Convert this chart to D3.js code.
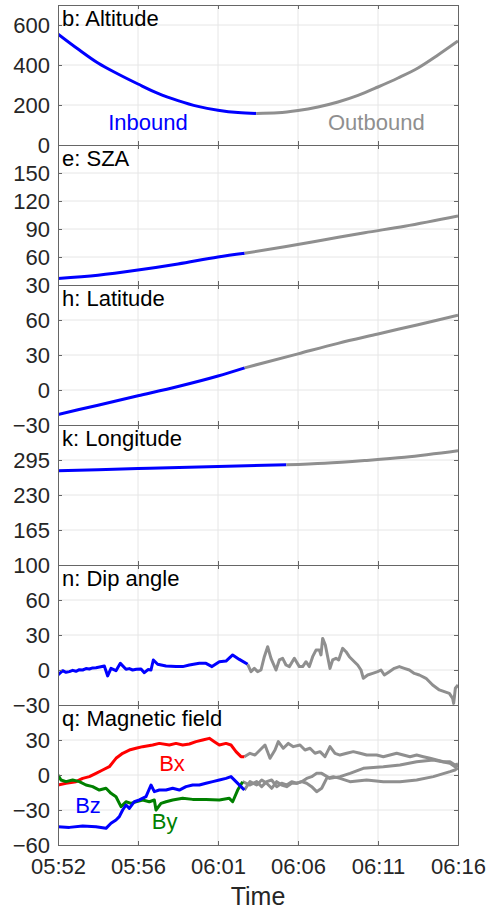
<!DOCTYPE html>
<html>
<head>
<meta charset="utf-8">
<script src="https://cdn.jsdelivr.net/npm/d3@7"></script>
<style>
  body { margin: 0; background: #fff; }
  text { font-family: "Liberation Sans", Arial, Helvetica, sans-serif; }
</style>
</head>
<body>
<script>
// time axis (minutes after start of window) and its labels
var timeTicks = [0, 4.8, 9.6, 14.4, 19.2, 24];
var timeLabels = ["05:52", "05:56", "06:01", "06:06", "06:11", "06:16"];

// b: Altitude
var altTicks = [0, 200, 400, 600];
var altInT  = [0, 1.2, 2.4, 3.6, 4.8, 6, 7.2, 8.4, 9.6, 10.8, 11.9];
var altInV  = [555, 480, 410, 355, 305, 258, 222, 193, 174, 162, 158];
var altOutT = [11.9, 13.2, 14.4, 15.6, 16.8, 18, 19.2, 20.4, 21.6, 22.8, 24];
var altOutV = [158, 161, 172, 190, 215, 248, 290, 335, 385, 450, 520];

// e: SZA
var szaTicks = [30, 60, 90, 120, 150];
var szaInT  = [0, 2.4, 4.8, 7.2, 9.6, 11.2];
var szaInV  = [37, 40.5, 46, 52.5, 60, 64];
var szaOutT = [11.2, 13.6, 16, 18.4, 20.8, 24];
var szaOutV = [64, 71, 78.5, 86, 93, 104];

// h: Latitude
var latTicks = [-30, 0, 30, 60];
var latInT  = [0, 2.4, 4.8, 7.2, 9.6, 11.2];
var latInV  = [-21, -13, -5, 3, 12, 19];
var latOutT = [11.2, 14.4, 16.8, 19.2, 21.6, 24];
var latOutV = [19, 31, 40, 48, 56, 64];

// k: Longitude
var lonTicks = [100, 165, 230, 295];
var lonInT  = [0, 4.8, 9.6, 13.7];
var lonInV  = [275, 279, 283, 286];
var lonOutT = [13.7, 16, 18.4, 20.8, 24];
var lonOutV = [286, 289, 294, 300, 312];

// n: Dip angle
var dipTicks = [-30, 0, 30, 60];
var dipInT = [0, 0.28, 0.48, 0.68, 0.88, 1.08, 1.28, 1.48, 1.68, 1.88, 2.08, 2.28, 2.5, 2.78, 2.98, 3.18, 3.48,
  3.74, 4.08, 4.28, 4.48, 4.7, 4.98, 5.18, 5.4, 5.58, 5.72, 5.98, 6.48, 7.08, 7.48, 7.88, 8.48, 8.88, 9.24,
  9.68, 10.08, 10.48, 10.88, 11.38];
var dipInV = [-4.3, -0.6, -2, -1.4, -0.3, -1.1, 0.3, 0, 1.2, 0.9, 1.8, 2, 2.6, 3.4, -5.1, 1.4, -0.6,
  5.7, 0.6, 1.2, 0, 0.6, 0.9, -2.3, 0.4, 0, 8.6, 4.9, 3.4, 2.9, 2.9, 4.3, 5.7, 5.7, 2.9,
  7.1, 7.7, 12.9, 9.1, 4.9];
var dipOutT = [11.38, 11.58, 11.78, 11.98, 12.18, 12.38, 12.58, 12.78, 13.08, 13.28, 13.48, 13.68, 13.88,
  14.18, 14.48, 14.68, 14.88, 15.08, 15.28, 15.48, 15.68, 15.78, 15.88, 16.04, 16.18, 16.32, 16.48,
  16.68, 16.84, 17.08, 17.28, 17.48, 17.78, 17.98, 18.18, 18.32, 18.58, 18.88, 19.18, 19.38, 19.58,
  19.88, 20.18, 20.48, 20.78, 21.08, 21.38, 21.68, 22.08, 22.48, 22.88, 23.18, 23.48, 23.68, 23.74,
  23.84, 24];
var dipOutV = [4.9, -1.4, 1.4, -1.4, 0, 11.4, 20, 10, 0, 8.6, 10, 4.3, 2.9,
  10, 2.9, 2.9, 7.1, 2.9, 11.4, 17.1, 17.1, 12.9, 27.1, 21.4, 11.4, 1.4, 8.6,
  10, 8.6, 18.6, 15.7, 11.4, 7.1, 4.3, 0, -7.1, -4.3, -2.9, -1.4, 0, -4.3,
  -1.4, 1.4, 2.9, 1.4, 0, -2.9, -4.3, -7.1, -12.9, -17.1, -18.6, -20, -24.3, -28.6,
  -15.7, -12.9];

// q: Magnetic field
var magTicks = [-60, -30, 0, 30];
var bxT = [0, 0.48, 1.08, 1.48, 1.88, 2.28, 2.68, 3.08, 3.48, 3.88, 4.28, 4.68, 5.08, 5.68, 6.08, 6.68,
  7.08, 7.48, 7.88, 8.28, 8.68, 9.08, 9.38, 9.68, 10.08, 10.38, 10.68, 10.98, 11.18];
var bxV = [-8.6, -7.1, -5.7, -2.9, -1.4, 1.4, 4.3, 7.1, 14.3, 18.6, 21.4, 22.9, 24.3, 25.7, 27.1, 25.7,
  27.1, 25.7, 26.6, 28.6, 30, 31.4, 28.6, 25.7, 27.1, 25.7, 20, 15.7, 15.7];
var byT = [0, 0.18, 0.48, 0.88, 1.28, 1.68, 2.08, 2.48, 2.88, 3.18, 3.48, 3.78, 4.08, 4.38, 4.68, 5.08,
  5.48, 5.78, 5.88, 6.18, 6.48, 6.88, 7.48, 8.08, 8.88, 9.68, 10.28, 10.48, 10.78, 11.08];
var byV = [0, -4.3, -5.7, -4.3, -5.7, -8.6, -10, -12.9, -11.4, -15.7, -18.6, -27.1, -22.9, -24.3, -22.9, -21.4,
  -22.9, -21.4, -30, -24.3, -22.9, -21.4, -20, -20.9, -20.9, -21.4, -20, -22.9, -12.9, -5.7];
var bzT = [0, 0.68, 1.48, 2.28, 2.88, 3.18, 3.48, 3.68, 3.88, 4.08, 4.28, 4.58, 4.88, 5.28, 5.58, 5.78,
  6.08, 6.48, 6.88, 7.28, 7.68, 8.08, 8.48, 8.88, 9.28, 9.68, 10.08, 10.38, 10.68, 10.98, 11.18];
var bzV = [-44.3, -44.9, -43.7, -44.3, -45.7, -41.4, -38.6, -35.7, -30, -25.7, -28.6, -22.9, -21.4, -18.6, -8.6, -14.3,
  -12.9, -12.9, -11.4, -12.9, -10, -8.6, -8.6, -7.1, -5.7, -4.3, -2.9, -1.4, -5.7, -10, -12.9];
var bxOutT = [11.18, 11.52, 11.82, 12.12, 12.42, 12.72, 13.02, 13.22, 13.52, 13.82, 14.12, 14.52, 14.82, 15.12,
  15.42, 15.72, 16.02, 16.32, 16.62, 16.92, 17.32, 17.72, 18.12, 18.52, 19.12, 19.52, 19.92, 20.32,
  20.72, 21.12, 21.52, 21.92, 22.32, 22.72, 23.12, 23.52, 23.82, 24];
var bxOutV = [15.7, 18.6, 17.1, 21.4, 25.7, 14.3, 21.4, 28.6, 22.9, 27.1, 24.3, 25.7, 21.4, 22.9,
  18.6, 20, 15.7, 24.3, 18.6, 17.1, 18.6, 20, 18.6, 17.1, 17.1, 15.7, 17.1, 18.6,
  17.1, 15.7, 17.1, 15.7, 14.3, 12.9, 11.4, 11.4, 8.6, 9.5];
var byOutT = [11.08, 11.52, 11.92, 12.22, 12.52, 12.82, 13.12, 13.42, 13.72, 14.02, 14.32, 14.62, 14.92, 15.22,
  15.52, 15.82, 16.12, 16.52, 16.92, 17.52, 18.52, 19.52, 20.52, 21.52, 22.52, 23.52, 23.82, 24];
var byOutV = [-5.7, -8.6, -5.7, -10, -5.7, -4.3, -10, -7.1, -8.6, -5.7, -7.1, -5.7, -7.1, -10,
  -14.3, -11.4, -2.9, -1.4, -2.9, -5.7, -4.3, -5.7, -5.7, -4.3, -1.4, 2.9, 4.3, 6];
var bzOutT = [11.18, 11.52, 11.92, 12.22, 12.52, 12.82, 13.12, 13.42, 13.72, 14.02, 14.32, 14.62, 14.92, 15.22,
  15.52, 15.82, 16.32, 16.92, 17.52, 18.32, 19.52, 20.52, 21.52, 22.52, 23.52, 23.82, 24];
var bzOutV = [-12.9, -5.7, -8.6, -4.3, -7.1, -11.4, -5.7, -8.6, -10, -7.1, -7.1, -5.7, -2.9, -1.4,
  1.4, 1.4, -2.9, -1.4, 1.4, 5.7, 7.1, 8.6, 11.4, 12.9, 10, 7.1, 8];

var blue = "#0000ff", gray = "#8f8f8f", red = "#ff0000", green = "#008000";

// set the dimensions of the stacked panels
var margin = {top: 5, left: 58},
    width = 400,
    panelH = 140;

function pts(t, v) { return t.map(function(d, i) { return {t: d, v: v[i]}; }); }

var panels = [
  {label: "b: Altitude", domain: [0, 700], ticks: altTicks, curve: d3.curveMonotoneX,
   series: [{d: pts(altInT, altInV), c: blue}, {d: pts(altOutT, altOutV), c: gray}],
   notes: [{text: "Inbound", t: 5.4, v: 75, c: blue}, {text: "Outbound", t: 19.1, v: 75, c: gray}]},
  {label: "e: SZA", domain: [30, 180], ticks: szaTicks, curve: d3.curveMonotoneX,
   series: [{d: pts(szaInT, szaInV), c: blue}, {d: pts(szaOutT, szaOutV), c: gray}]},
  {label: "h: Latitude", domain: [-30, 90], ticks: latTicks, curve: d3.curveMonotoneX,
   series: [{d: pts(latInT, latInV), c: blue}, {d: pts(latOutT, latOutV), c: gray}]},
  {label: "k: Longitude", domain: [100, 360], ticks: lonTicks, curve: d3.curveMonotoneX,
   series: [{d: pts(lonInT, lonInV), c: blue}, {d: pts(lonOutT, lonOutV), c: gray}]},
  {label: "n: Dip angle", domain: [-30, 90], ticks: dipTicks, curve: d3.curveLinear,
   series: [{d: pts(dipInT, dipInV), c: blue}, {d: pts(dipOutT, dipOutV), c: gray}]},
  {label: "q: Magnetic field", domain: [-60, 60], ticks: magTicks, curve: d3.curveLinear,
   series: [{d: pts(bxOutT, bxOutV), c: gray}, {d: pts(byOutT, byOutV), c: gray},
            {d: pts(bzOutT, bzOutV), c: gray},
            {d: pts(bxT, bxV), c: red}, {d: pts(byT, byV), c: green}, {d: pts(bzT, bzV), c: blue}],
   notes: [{text: "Bx", t: 6.84, v: 3.4, c: red}, {text: "By", t: 6.4, v: -46.3, c: green},
           {text: "Bz", t: 1.8, v: -32.6, c: blue}]}
];

var x = d3.scaleLinear().domain([0, 24]).range([0, width]);

var svg = d3.select("body").append("svg")
    .attr("width", 488)
    .attr("height", 912)
  .append("g")
    .attr("transform", "translate(" + margin.left + "," + margin.top + ")");

panels.forEach(function(p, k) {
  var y = d3.scaleLinear().domain(p.domain).range([panelH, 0]);
  var g = svg.append("g").attr("transform", "translate(0," + (k * panelH) + ")");

  // grid
  g.selectAll(".gx").data(timeTicks.slice(1, -1)).enter().append("line")
      .attr("x1", x).attr("x2", x).attr("y1", 0).attr("y2", panelH)
      .attr("stroke", "#e6e6e6").attr("stroke-width", 1);
  g.selectAll(".gy").data(p.ticks.filter(function(d) { return y(d) > 0 && y(d) < panelH; })).enter().append("line")
      .attr("x1", 0).attr("x2", width).attr("y1", y).attr("y2", y)
      .attr("stroke", "#e6e6e6").attr("stroke-width", 1);

  var clipId = "clip" + k;
  g.append("clipPath").attr("id", clipId).append("rect")
      .attr("width", width).attr("height", panelH);

  var line = d3.line()
      .x(function(d) { return x(d.t); })
      .y(function(d) { return y(d.v); })
      .curve(p.curve);

  g.append("g").attr("clip-path", "url(#" + clipId + ")")
    .selectAll("path").data(p.series).enter().append("path")
      .attr("d", function(s) { return line(s.d); })
      .attr("fill", "none")
      .attr("stroke", function(s) { return s.c; })
      .attr("stroke-width", p.curve === d3.curveLinear ? 3 : 3)
      .attr("stroke-linejoin", "round");

  // box + inward ticks on every side
  var last = k === panels.length - 1;
  var left = g.append("g").call(d3.axisLeft(y).tickValues(p.ticks).tickSize(-4).tickPadding(8));
  g.append("g").attr("transform", "translate(" + width + ",0)")
      .call(d3.axisRight(y).tickValues(p.ticks).tickSize(-4).tickFormat(""));
  g.append("g").call(d3.axisTop(x).tickValues(timeTicks).tickSize(-4).tickFormat(""));
  var bottom = g.append("g").attr("transform", "translate(0," + panelH + ")")
      .call(d3.axisBottom(x).tickValues(timeTicks).tickSize(-4).tickPadding(13)
        .tickFormat(function(d, i) { return last ? timeLabels[i] : ""; }));

  g.selectAll(".domain").attr("stroke", "#666");
  g.selectAll(".tick line").attr("stroke", "#666");
  g.selectAll(".tick text").attr("fill", "#262626").style("font-size", "22px")
      .attr("font-family", "'Liberation Sans', Arial, sans-serif");

  // panel title
  g.append("text")
      .attr("x", 4).attr("y", 21)
      .style("font-size", "22px")
      .attr("fill", "#000")
      .text(p.label);

  (p.notes || []).forEach(function(n) {
    g.append("text")
        .attr("x", x(n.t)).attr("y", y(n.v))
        .attr("text-anchor", "middle")
        .style("font-size", "22px")
        .attr("fill", n.c)
        .text(n.text);
  });
});

// x axis title
svg.append("text")
    .attr("x", width / 2)
    .attr("y", panels.length * panelH + 60)
    .attr("text-anchor", "middle")
    .style("font-size", "25px")
    .attr("fill", "#262626")
    .text("Time");
</script>
</body>
</html>
